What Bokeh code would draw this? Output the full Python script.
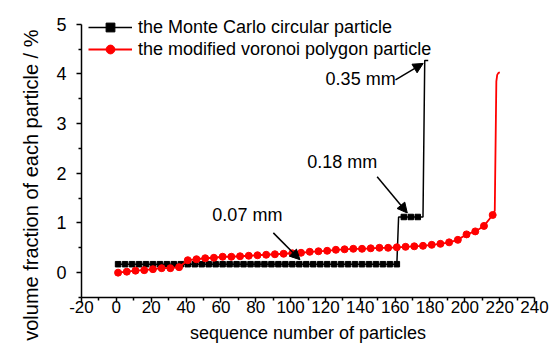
from bokeh.plotting import figure
from bokeh.models import Range1d, Legend, LegendItem, Arrow, NormalHead, Title, FixedTicker
from bokeh.core.properties import value
from bokeh.embed import file_html
from bokeh.resources import INLINE

FONT = "Liberation Sans"

# ---- data ----
# Monte Carlo circular particle (step-like series)
mc_line_x = [1, 161, 162, 176, 177, 179]
mc_line_y = [0.17, 0.17, 1.12, 1.12, 4.27, 4.27]
mc_marker_x = [1, 5, 9, 13, 17, 21, 25, 29, 33, 37, 41, 45, 49, 53, 57, 61, 65, 69,
               73, 77, 81, 85, 89, 93, 97, 101, 105, 109, 113, 117, 121, 125, 129,
               133, 137, 141, 145, 149, 153, 157, 161, 165, 169, 173]
mc_marker_y = [0.17] * 41 + [1.12] * 3

# modified voronoi polygon particle
vp_marker_x = [1, 6, 11, 16, 21, 26, 31, 36, 41, 46, 51, 56, 61, 66, 71, 76, 81, 86,
               91, 96, 101, 106, 111, 116, 121, 126, 131, 136, 141, 146, 151, 156,
               161, 166, 171, 176, 181, 186, 191, 196, 201, 206, 211, 216]
vp_marker_y = [0.00, 0.02, 0.04, 0.05, 0.07, 0.09, 0.09, 0.11, 0.25, 0.27, 0.29, 0.30,
               0.32, 0.32, 0.33, 0.34, 0.35, 0.36, 0.37, 0.38, 0.39, 0.40, 0.42, 0.43,
               0.44, 0.46, 0.47, 0.48, 0.48, 0.49, 0.50, 0.50, 0.51, 0.52, 0.53, 0.54,
               0.56, 0.58, 0.61, 0.66, 0.77, 0.83, 0.94, 1.16]
vp_tail_x = [217.2, 218.1, 218.6, 219.3, 220.1]
vp_tail_y = [1.25, 3.85, 3.98, 4.02, 4.03]

x_ticks = [-20, 0, 20, 40, 60, 80, 100, 120, 140, 160, 180, 200, 220, 240]
x_minor = [-10, 10, 30, 50, 70, 90, 110, 130, 150, 170, 190, 210, 230]
y_ticks = [0, 1, 2, 3, 4, 5]
y_minor = [-0.5, 0.5, 1.5, 2.5, 3.5, 4.5]

ann_text = ["0.07 mm", "0.18 mm", "0.35 mm"]
ann_x = [75.2, 129.7, 140.2]
ann_y = [1.15, 2.22, 3.89]
arr_x0 = [90.1, 149.7, 160.2]
arr_y0 = [0.80, 1.93, 3.88]
arr_x1 = [105.4, 167.0, 176.1]
arr_y1 = [0.26, 1.20, 4.21]

# ---- figure ----
p = figure(width=551, height=345, output_backend="svg", toolbar_location=None,
           x_range=Range1d(-20, 240), y_range=Range1d(-0.5, 5.315),
           min_border_left=81, min_border_right=17, min_border_top=8,
           min_border_bottom=48)
p.outline_line_color = None
p.xgrid.visible = False
p.ygrid.visible = False
p.background_fill_color = "white"
p.border_fill_color = "white"

for ax in (p.xaxis[0], p.yaxis[0]):
    ax.axis_line_width = 1.5
    ax.axis_line_color = "black"
    ax.major_tick_line_width = 1.5
    ax.minor_tick_line_width = 1.5
    ax.major_tick_in = 0
    ax.major_tick_out = 5
    ax.minor_tick_in = 0
    ax.minor_tick_out = 3
    ax.major_label_text_font = FONT
    ax.major_label_text_color = "black"
p.xaxis.major_label_text_font_size = "17px"
p.yaxis.major_label_text_font_size = "18px"

p.yaxis.bounds = (-0.5, 5)
p.xaxis.ticker = FixedTicker(ticks=x_ticks, minor_ticks=x_minor)
p.yaxis.ticker = FixedTicker(ticks=y_ticks, minor_ticks=y_minor)
p.xaxis.major_label_overrides = {-20: "-20"}
p.xaxis.major_label_standoff = -2
p.yaxis.major_label_standoff = 10
p.xaxis.axis_label = "sequence number of particles"
p.xaxis.axis_label_text_font = FONT
p.xaxis.axis_label_text_font_size = "18px"
p.xaxis.axis_label_text_font_style = "normal"
p.xaxis.axis_label_text_color = "black"
p.xaxis.axis_label_standoff = 7

ytitle = Title(text="volume fraction of each particle / %", align="right", offset=21,
               text_font=FONT, text_font_size="20px", text_font_style="normal",
               text_color="black", standoff=24)
p.add_layout(ytitle, "left")

# series
mc_l = p.line(mc_line_x, mc_line_y, line_color="black", line_width=1.5)
mc_s = p.scatter(mc_marker_x, mc_marker_y, marker="square", size=5.5,
                 fill_color="black", line_color="black")
vp_l = p.line(vp_marker_x + vp_tail_x, vp_marker_y + vp_tail_y, line_color="red",
              line_width=1.8)
vp_s = p.scatter(vp_marker_x, vp_marker_y, marker="circle", size=7,
                 fill_color="red", line_color="red")

# annotations
p.text(ann_x, ann_y, text=ann_text, text_font=value(FONT), text_font_size="18px",
       text_align="center", text_baseline="middle", text_color="black")
for i in range(len(arr_x0)):
    p.add_layout(Arrow(end=NormalHead(size=10, fill_color="black", line_color="black"),
                       x_start=arr_x0[i], y_start=arr_y0[i], x_end=arr_x1[i],
                       y_end=arr_y1[i], line_color="black", line_width=1.5))

legend = Legend(items=[
    LegendItem(label="the Monte Carlo circular particle", renderers=[mc_l, mc_s]),
    LegendItem(label="the modified voronoi polygon particle", renderers=[vp_l, vp_s]),
], location=(7, 237))
legend.border_line_color = None
legend.background_fill_alpha = 0
legend.padding = 0
legend.margin = 0
legend.spacing = 0
legend.glyph_width = 44
legend.glyph_height = 22
legend.label_standoff = 6
legend.label_text_font = FONT
legend.label_text_font_size = "18px"
legend.label_text_color = "black"
p.add_layout(legend)

open("out.html", "w").write(file_html(p, INLINE))
